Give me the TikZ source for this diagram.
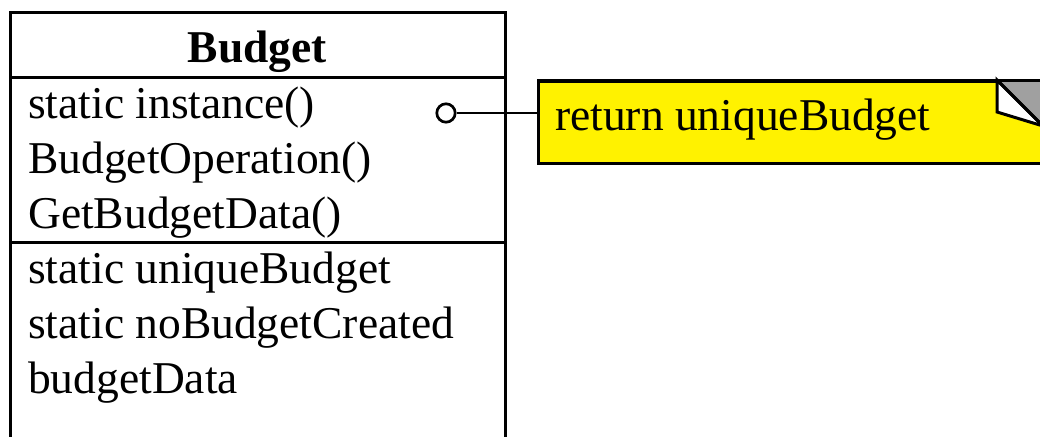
\documentclass[tikz,border=0pt]{standalone}
\usepackage{fontspec}
\setmainfont{Liberation Serif}
\definecolor{foldgray}{RGB}{160,160,160}
\begin{document}
\begin{tikzpicture}[x=1pt,y=-1pt,line cap=butt,line join=miter,
  member/.style={anchor=base west,inner sep=0pt,font=\fontsize{45.5}{55}\selectfont},
  frame/.style={line width=3pt},
  note/.style={draw,line width=3pt,fill=yellow,anchor=north west,minimum width=560,minimum height=82,inner sep=0pt}]
\useasboundingbox (0,0) rectangle (1040,436);
\clip (0,0) rectangle (1040,436);
% class box
\draw[frame] (10,480) -- (10,13) -- (505,13) -- (505,480);
\draw[frame] (10,77) -- (505,77);
\draw[frame] (10,242) -- (505,242);
\node[member,anchor=base,font=\fontsize{45.5}{55}\selectfont\bfseries] (name) at (257.5,63) {Budget};
\node[member] (instance) at (28,118) {static instance()};
\node[member] (operation) at (28,173) {BudgetOperation()};
\node[member] (getdata) at (28,228) {GetBudgetData()};
\node[member] (unique) at (28,283) {static uniqueBudget};
\node[member] (nocreated) at (28,338) {static noBudgetCreated};
\node[member] (data) at (28,393) {budgetData};
% note with folded corner
\node[note] (ret) at (537,80) {};
\node[member] at (555,130) {return uniqueBudget};
\fill[foldgray] (997,80) -- (1100,80) -- (1100,183) -- cycle;
\draw[line width=3pt,fill=white] (997,80) -- (997,112) -- (1043,126) -- cycle;
\draw[line width=3pt] (997,80) -- (1100,183);
\draw[line width=3pt] (ret.north west) -- (1040,80);
% attachment
\node[circle,draw,line width=2.7pt,fill=white,inner sep=6.5pt,font=\tiny] (dot) at (446,113) {};
\draw[line width=1.2pt] (dot) -- (dot -| ret.west);
\end{tikzpicture}
\end{document}
